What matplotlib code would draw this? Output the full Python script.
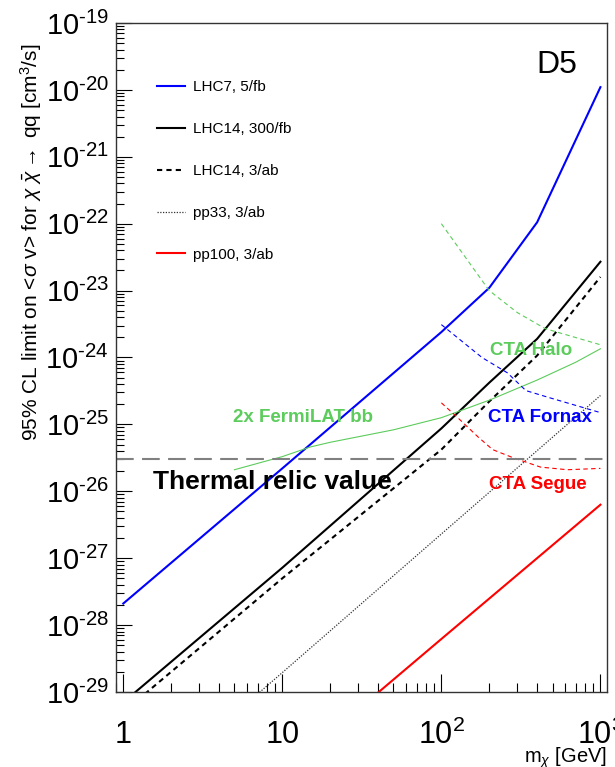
import numpy as np
import matplotlib
matplotlib.use("Agg")
import matplotlib.pyplot as plt
from matplotlib.ticker import LogLocator, NullFormatter, FixedLocator, FixedFormatter, FuncFormatter

plt.rcParams['font.family'] = ['Liberation Sans', 'DejaVu Sans']
plt.rcParams['mathtext.fontset'] = 'custom'
plt.rcParams['mathtext.rm'] = 'Liberation Sans'
plt.rcParams['mathtext.it'] = 'Liberation Sans:italic'
plt.rcParams['mathtext.bf'] = 'Liberation Sans:bold'

# collider limits
mass = [1, 10, 100, 200, 400, 1000]
lhc7_5fb = [2.1e-28, 2.2e-26, 2.4e-24, 1.1e-23, 1.05e-22, 1.1e-20]
lhc14_300fb = [7.0e-30, 7.2e-28, 8.7e-26, 4.2e-25, 1.9e-24, 2.7e-23]
lhc14_3ab = [5.0e-30, 5.0e-28, 4.2e-26, 2.2e-25, 1.07e-24, 1.6e-23]

mass_fut = [1, 10, 100, 1000]
pp33_3ab = [1.7e-31, 1.95e-29, 2.3e-27, 2.7e-25]
pp100_3ab = [5.9e-33, 6.0e-31, 6.2e-29, 6.3e-27]

# indirect detection
fermi_m = [5, 10, 15, 20, 50, 100, 200, 400, 700, 1000]
fermi_2x = [2.1e-26, 3.3e-26, 4.6e-26, 5.4e-26, 8.3e-26, 1.26e-25, 2.3e-25, 4.6e-25, 8.5e-25, 1.35e-24]

halo_m = [100, 150, 200, 300, 450, 1000]
cta_halo = [1.0e-22, 2.6e-23, 1.0e-23, 4.7e-24, 2.7e-24, 1.55e-24]

fornax_m = [100, 180, 260, 340, 480, 1000]
cta_fornax = [3.1e-24, 1.0e-24, 5.9e-25, 3.2e-25, 2.5e-25, 1.5e-25]

segue_m = [100, 125, 170, 210, 280, 420, 620, 1000]
cta_segue = [2.1e-25, 1.3e-25, 6.5e-26, 4.2e-26, 3.2e-26, 2.3e-26, 2.1e-26, 2.2e-26]

thermal = 3e-26

green = '#5ccc5c'

fig = plt.figure(figsize=(6.15, 7.67), dpi=100)
ax = fig.add_axes([0.1886, 0.0978, 0.7984, 0.8722])

ax.plot(mass, lhc7_5fb, color='blue', lw=1.5, label='LHC7, 5/fb')
ax.plot(mass, lhc14_300fb, color='black', lw=1.5, label='LHC14, 300/fb')
ax.plot(mass, lhc14_3ab, color='black', lw=1.5, dashes=(2.5, 2.0), label='LHC14, 3/ab')
ax.plot(mass_fut, pp33_3ab, color='#333333', lw=0.9, dashes=(1, 1.2), label='pp33, 3/ab')
ax.plot(mass_fut, pp100_3ab, color='red', lw=1.5, label='pp100, 3/ab')

ax.plot(fermi_m, fermi_2x, color=green, lw=0.8)
ax.plot(halo_m, cta_halo, color=green, lw=0.8, dashes=(4, 3))
ax.plot(fornax_m, cta_fornax, color='blue', lw=0.8, dashes=(4, 3))
ax.plot(segue_m, cta_segue, color='red', lw=0.8, dashes=(4, 3))

ax.axhline(thermal, color='#808080', lw=1.5, dashes=(8.5, 4))

ax.set_xscale('log')
ax.set_yscale('log')
ax.set_xlim(0.9, 1100)
ax.set_ylim(1e-29, 1e-19)

# axis ticks, inward, only bottom and left
ax.xaxis.set_major_locator(FixedLocator([1, 10, 100, 1000]))
ax.xaxis.set_major_formatter(FixedFormatter(['1', '10', r'$10^{2}$', r'$10^{3}$']))
ax.xaxis.set_minor_locator(LogLocator(base=10, subs=np.arange(2, 10), numticks=100))
ax.xaxis.set_minor_formatter(NullFormatter())
ax.yaxis.set_major_locator(LogLocator(base=10, numticks=30))
ax.yaxis.set_major_formatter(FuncFormatter(
    lambda v, pos: r'$10^{\text{%d}}$' % int(round(np.log10(v)))))
ax.yaxis.set_minor_locator(LogLocator(base=10, subs=np.arange(2, 10), numticks=100))
ax.yaxis.set_minor_formatter(NullFormatter())

ax.tick_params(axis='both', which='both', direction='in', top=False, right=False, width=0.8)
ax.tick_params(axis='x', which='major', length=13, labelsize=22, pad=20)
ax.tick_params(axis='x', which='minor', length=6.5)
ax.tick_params(axis='y', which='major', length=11.5, labelsize=21, pad=5)
ax.tick_params(axis='y', which='minor', length=6)
for sp in ax.spines.values():
    sp.set_color('#333333')
    sp.set_linewidth(1.0)

fig.text(31 / 615, 1 - 242 / 767,
         r'95% CL limit on <$\sigma$ v> for $\chi$ $\bar{\chi}$$\rightarrow$ qq [cm$^{3}$/s]',
         rotation=90, ha='center', va='center', fontsize=15)
fig.text(607 / 615, 1 - 758 / 767, r'm$_{\chi}$ [GeV]', ha='right', va='center', fontsize=14.5)

ax.text(0.857, 0.925, 'D5', fontsize=23, va='baseline', transform=ax.transAxes)
ax.text(0.238, 0.411, '2x FermiLAT bb', color=green, fontsize=13.5, fontweight='bold',
        va='center', transform=ax.transAxes)
ax.text(0.075, 0.314, 'Thermal relic value', color='black', fontsize=19, fontweight='bold',
        va='center', transform=ax.transAxes)
ax.text(0.762, 0.511, 'CTA Halo', color=green, fontsize=13.5, fontweight='bold',
        va='center', transform=ax.transAxes)
ax.text(0.758, 0.410, 'CTA Fornax', color='blue', fontsize=13.5, fontweight='bold',
        va='center', transform=ax.transAxes)
ax.text(0.760, 0.310, 'CTA Segue', color='red', fontsize=13.5, fontweight='bold',
        va='center', transform=ax.transAxes)

ax.legend(loc='upper left', bbox_to_anchor=(157 / 615, 1 - 80 / 767),
          bbox_transform=fig.transFigure, frameon=False, fontsize=11,
          labelspacing=1.83, handlelength=1.8, handletextpad=0.55,
          borderpad=0, borderaxespad=0)

fig.savefig('out.png', dpi=100)
